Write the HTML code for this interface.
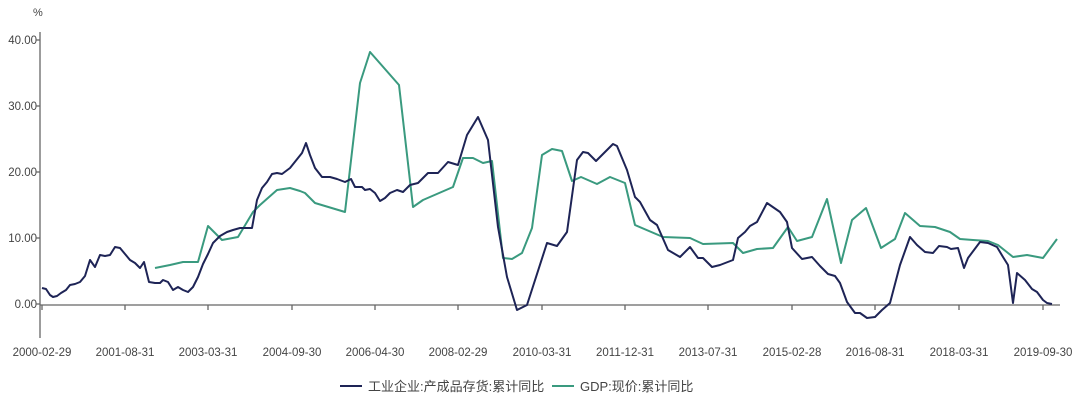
<!DOCTYPE html>
<html><head><meta charset="utf-8"><style>
html,body{margin:0;padding:0;background:#fff;}
svg text{font-family:"Liberation Sans","Noto Sans CJK SC",sans-serif;fill:#444;}
</style></head><body>
<svg width="1080" height="401" viewBox="0 0 1080 401" xmlns="http://www.w3.org/2000/svg">
<text x="33" y="16" font-size="11">%</text>
<g font-size="11.5" text-anchor="end">
<text x="37" y="44">40.00</text>
<text x="37" y="110">30.00</text>
<text x="37" y="176">20.00</text>
<text x="37" y="242">10.00</text>
<text x="37" y="308">0.00</text>
</g>
<g stroke="#666" stroke-width="1.3">
<line x1="40" y1="32" x2="40" y2="338"/>
<line x1="36" y1="40" x2="40" y2="40"/><line x1="36" y1="106" x2="40" y2="106"/><line x1="36" y1="172" x2="40" y2="172"/><line x1="36" y1="238" x2="40" y2="238"/><line x1="36" y1="304" x2="40" y2="304"/>
<line x1="40" y1="305" x2="1060" y2="305"/>
<line x1="42" y1="305" x2="42" y2="310"/><line x1="125" y1="305" x2="125" y2="310"/><line x1="208" y1="305" x2="208" y2="310"/><line x1="292" y1="305" x2="292" y2="310"/><line x1="375" y1="305" x2="375" y2="310"/><line x1="458" y1="305" x2="458" y2="310"/><line x1="542" y1="305" x2="542" y2="310"/><line x1="625" y1="305" x2="625" y2="310"/><line x1="708" y1="305" x2="708" y2="310"/><line x1="792" y1="305" x2="792" y2="310"/><line x1="875" y1="305" x2="875" y2="310"/><line x1="959" y1="305" x2="959" y2="310"/><line x1="1043" y1="305" x2="1043" y2="310"/>
</g>
<g font-size="11.5" text-anchor="middle">
<text x="42" y="356">2000-02-29</text><text x="125" y="356">2001-08-31</text><text x="208" y="356">2003-03-31</text><text x="292" y="356">2004-09-30</text><text x="375" y="356">2006-04-30</text><text x="458" y="356">2008-02-29</text><text x="542" y="356">2010-03-31</text><text x="625" y="356">2011-12-31</text><text x="708" y="356">2013-07-31</text><text x="792" y="356">2015-02-28</text><text x="875" y="356">2016-08-31</text><text x="959" y="356">2018-03-31</text><text x="1043" y="356">2019-09-30</text>
</g>
<polyline fill="none" stroke="#3a9a7f" stroke-width="2" stroke-linejoin="round" points="155,268 170,265 183,262 198,262 208,226 222,240 238,237 253,212 260,205 277,190 290,188 300,191 305,193 315,203 345,212 360,83 370,52 399,85 413,207 423,200 453,187 463,158 473,158 483,163 492,161 503,258 512,259 522,253 532,228 542,155 552,149 562,151 572,181 581,177 597,184 610,177 625,183 635,225 663,237 690,238 703,244 733,243 743,253 757,249 773,248 788,227 797,241 812,237 827,199 841,263 852,220 866,208 881,248 895,239 905,213 920,226 935,227 950,232 960,239 973,240 988,241 998,245 1013,257 1027,255 1043,258 1057,239"/>
<polyline fill="none" stroke="#1e2456" stroke-width="2" stroke-linejoin="round" points="42,288 46,289 50,295 53,297 57,296 61,293 66,290 70,285 75,284 80,282 85,276 90,260 95,267 100,255 105,256 110,255 115,247 120,248 125,254 130,260 135,263 140,268 144,262 149,282 155,283 160,283 163,280 168,282 173,290 178,287 183,290 188,292 193,287 198,277 203,264 208,254 213,243 220,236 227,232 233,230 240,228 246,228 252,228 257,200 262,188 267,182 272,174 277,173 282,174 290,168 298,158 302,153 306,143 310,155 315,168 322,177 330,177 337,179 345,182 351,179 355,187 362,187 365,190 370,189 375,193 380,201 385,198 390,193 397,190 403,192 410,185 418,183 428,173 438,173 448,162 458,165 467,135 478,117 488,140 498,227 507,277 517,310 527,305 547,243 557,246 567,232 577,160 583,152 588,153 596,161 605,152 613,144 617,146 627,170 635,197 640,202 650,220 657,225 668,250 680,257 690,247 698,258 703,258 712,267 720,265 733,260 738,238 745,232 750,226 757,222 767,203 780,212 787,222 792,248 802,259 812,257 820,266 828,274 835,276 840,283 847,302 855,313 860,313 867,318 875,317 882,310 890,303 900,265 910,237 917,245 925,252 933,253 939,246 947,247 951,249 958,248 964,268 968,258 980,242 988,243 997,247 1003,257 1008,265 1013,303 1017,273 1025,280 1032,289 1037,292 1043,300 1047,303 1052,304"/>
<line x1="340" y1="386" x2="362" y2="386" stroke="#1e2456" stroke-width="2"/>
<text x="368" y="391" font-size="13">工业企业:产成品存货:累计同比</text>
<line x1="552" y1="386" x2="574" y2="386" stroke="#3a9a7f" stroke-width="2"/>
<text x="580" y="391" font-size="13">GDP:现价:累计同比</text>
</svg>
</body></html>
